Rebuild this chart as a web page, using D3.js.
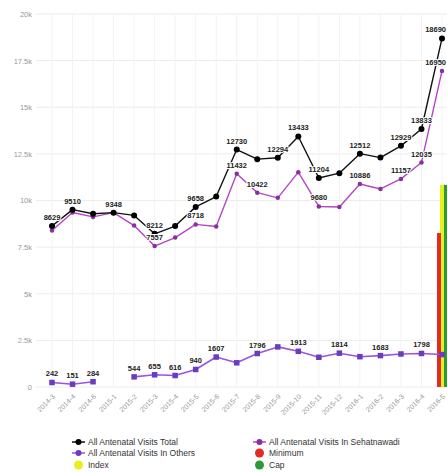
<!DOCTYPE html>
<html>
<head>
<meta charset="utf-8">
<script src="https://cdn.jsdelivr.net/npm/d3@7/dist/d3.min.js"></script>
<style>
  html, body { margin: 0; padding: 0; background: #fff; overflow: hidden; }
  svg { display: block; font-family: "Liberation Sans", Arial, sans-serif; }
</style>
</head>
<body>
<svg id="chart" width="447" height="473"></svg>
<script>
// Reporting periods
const periods = ["2014-3","2014-4","2014-6","2015-1","2015-2","2015-3","2015-4","2015-5","2015-6","2015-7",
                 "2015-8","2015-9","2015-10","2015-11","2015-12","2016-1","2016-2","2016-3","2016-4","2016-5"];

// Antenatal visit counts
const totalVisits  = [8629, 9510, 9290, 9348, 9200, 8212, 8630, 9658, 10210, 12730,
                      12218, 12294, 13433, 11204, 11465, 12512, 12300, 12929, 13833, 18690];
const sehatVisits  = [8387, 9359, 9120, 9348, 8656, 7557, 8014, 8718, 8603, 11432,
                      10422, 10144, 11520, 9680, 9650, 10886, 10617, 11157, 12035, 16950];
const othersVisits = [242, 151, 284, null, 544, 655, 616, 940, 1607, 1298,
                      1796, 2150, 1913, 1594, 1814, 1626, 1683, 1770, 1798, 1740];

// Reference bars at the latest period
const refPeriod = "2016-5";
const indexValue = 10840;
const minimumValue = 8260;
const capValue = 10840;

// Points whose value is printed
const totalLabelIdx  = [0, 1, 3, 5, 7, 9, 11, 12, 13, 15, 17, 18, 19];
const sehatLabelIdx  = [5, 7, 9, 10, 13, 15, 17, 18, 19];
const othersLabelIdx = [0, 1, 2, 4, 5, 6, 7, 8, 10, 12, 14, 16, 18];

const yTicks = [0, 2500, 5000, 7500, 10000, 12500, 15000, 17500, 20000];
const yTickLabels = ["0", "2.5k", "5k", "7.5k", "10k", "12.5k", "15k", "17.5k", "20k"];

const W = 447;
const svg = d3.select("#chart");
const x = d3.scalePoint().domain(periods).range([52, 442]);
const y = d3.scaleLinear().domain([0, 20000]).range([387, 14]);

// Grid
const grid = svg.append("g");
grid.selectAll("line.h").data(yTicks).join("line")
  .attr("x1", 36).attr("x2", W)
  .attr("y1", d => y(d)).attr("y2", d => y(d))
  .attr("stroke", "#ececec").attr("stroke-width", 1);
grid.selectAll("line.v").data(periods).join("line")
  .attr("x1", d => x(d)).attr("x2", d => x(d))
  .attr("y1", y(20000)).attr("y2", y(0))
  .attr("stroke", "#f3f3f3").attr("stroke-width", 1);

// Y axis
const yAxis = d3.axisLeft(y).tickValues(yTicks)
  .tickFormat((d, i) => yTickLabels[i]).tickSize(0).tickPadding(4);
svg.append("g").attr("transform", "translate(36,0)").call(yAxis)
  .call(g => g.select(".domain").remove())
  .call(g => g.selectAll("text").attr("fill", "#999").attr("font-size", 7.5));

// X axis
const xAxis = d3.axisBottom(x).tickSize(0).tickPadding(0);
svg.append("g").attr("transform", "translate(0,393)").call(xAxis)
  .call(g => g.select(".domain").remove())
  .call(g => g.selectAll("text")
    .attr("fill", "#999").attr("font-size", 7)
    .attr("text-anchor", "end")
    .attr("dy", 0)
    .attr("transform", "translate(3,4) rotate(-45)"));

// Reference bars
const bx = x(refPeriod);
const bars = [
  { v: indexValue, c: "#e6ef1f", dx: -2, w: 5 },
  { v: minimumValue, c: "#e52a22", dx: -5, w: 4 },
  { v: capValue, c: "#2f9a35", dx: 2, w: 5 }
];
svg.append("g").selectAll("rect").data(bars).join("rect")
  .attr("x", d => bx + d.dx).attr("width", d => d.w)
  .attr("y", d => y(d.v)).attr("height", d => y(0) - y(d.v))
  .attr("fill", d => d.c);

// Lines
function drawSeries(values, lineColor, lineWidth, markerColor, markerShape, markerSize) {
  const pts = values.map((v, i) => ({ p: periods[i], v }));
  const line = d3.line().defined(d => d.v != null).x(d => x(d.p)).y(d => y(d.v));
  const g = svg.append("g");
  g.append("path").datum(pts).attr("d", line)
    .attr("fill", "none").attr("stroke", lineColor).attr("stroke-width", lineWidth)
    .attr("stroke-linejoin", "round");
  const valid = pts.filter(d => d.v != null);
  if (markerShape === "square") {
    g.selectAll("rect").data(valid).join("rect")
      .attr("x", d => x(d.p) - markerSize / 2).attr("y", d => y(d.v) - markerSize / 2)
      .attr("width", markerSize).attr("height", markerSize).attr("fill", markerColor);
  } else {
    g.selectAll("circle").data(valid).join("circle")
      .attr("cx", d => x(d.p)).attr("cy", d => y(d.v)).attr("r", markerSize / 2)
      .attr("fill", markerColor);
  }
}
drawSeries(othersVisits, "#9a55e0", 1.6, "#6b3cbf", "square", 5.5);
drawSeries(sehatVisits, "#b447c4", 1.4, "#8a2f9f", "circle", 4.5);
drawSeries(totalVisits, "#111", 1.4, "#000", "circle", 6);

// Value labels (kept inside the right edge)
function drawLabels(values, idx) {
  svg.append("g").selectAll("text").data(idx).join("text")
    .attr("x", i => x(periods[i]) + 12 > W ? W - 1 : x(periods[i]))
    .attr("y", i => y(values[i]) - 6)
    .attr("text-anchor", i => x(periods[i]) + 12 > W ? "end" : "middle")
    .attr("font-size", 7.5).attr("font-weight", "bold")
    .attr("fill", "#222")
    .attr("stroke", "#fff").attr("stroke-width", 2).attr("paint-order", "stroke")
    .text(i => values[i]);
}
drawLabels(othersVisits, othersLabelIdx);
drawLabels(sehatVisits, sehatLabelIdx);
drawLabels(totalVisits, totalLabelIdx);

// Legend
const legend = [
  { t: "All Antenatal Visits Total", kind: "line", c: "#111", m: "#000", col: 0, row: 0 },
  { t: "All Antenatal Visits In Others", kind: "line", c: "#9a55e0", m: "#6b3cbf", col: 0, row: 1 },
  { t: "Index", kind: "dot", c: "#e6ef1f", col: 0, row: 2 },
  { t: "All Antenatal Visits In Sehatnawadi", kind: "line", c: "#b447c4", m: "#8a2f9f", col: 1, row: 0 },
  { t: "Minimum", kind: "dot", c: "#e52a22", col: 1, row: 1 },
  { t: "Cap", kind: "dot", c: "#2f9a35", col: 1, row: 2 }
];
const colX = [72, 253];
const rowY = [442, 453, 465];
const lg = svg.append("g").selectAll("g").data(legend).join("g")
  .attr("transform", d => `translate(${colX[d.col]},${rowY[d.row]})`);
lg.filter(d => d.kind === "line").append("line")
  .attr("x1", 0).attr("x2", 13).attr("y1", 0).attr("y2", 0)
  .attr("stroke", d => d.c).attr("stroke-width", 1.5);
lg.filter(d => d.kind === "line").append("circle")
  .attr("cx", 6.5).attr("cy", 0).attr("r", 3).attr("fill", d => d.m);
lg.filter(d => d.kind === "dot").append("circle")
  .attr("cx", 6.5).attr("cy", 0).attr("r", 4.5).attr("fill", d => d.c);
lg.append("text").attr("x", 16).attr("y", 3).attr("font-size", 8.5).attr("fill", "#333")
  .text(d => d.t);
</script>
</body>
</html>
